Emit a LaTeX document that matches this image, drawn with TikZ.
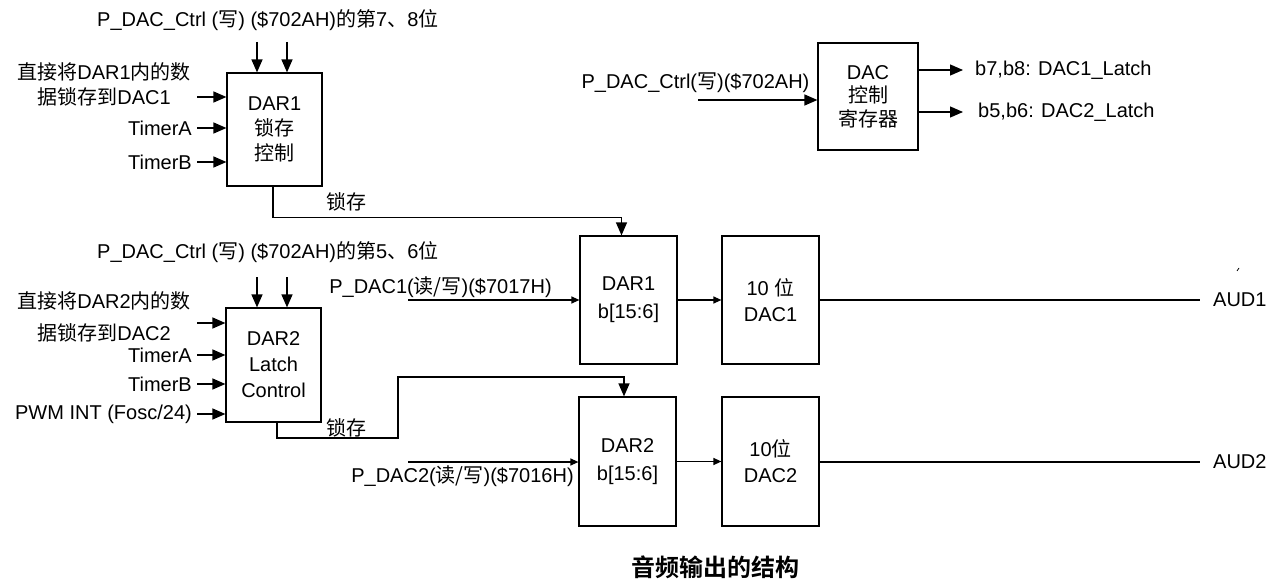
\documentclass[tikz,border=0pt]{standalone}
\usepackage{fontspec}
\setmainfont{Liberation Sans}
\newfontfamily\zhf{Noto Sans CJK SC}
\newfontfamily\zhbf{Noto Sans CJK SC Bold}
\newcommand{\zh}[1]{{\zhf #1}}
\usetikzlibrary{arrows.meta}
\tikzset{
  lbl/.style={font=\fontsize{20}{24}\selectfont, inner sep=0pt},
  blk/.style={draw, line width=1.2pt, align=center, inner sep=0pt, font=\fontsize{20}{25}\selectfont},
  big/.style={-{Triangle[length=13pt,width=11pt]}, line width=1.3pt},
  small/.style={-{Triangle[length=8pt,width=7pt]}, line width=1.2pt},
  wire/.style={line width=1.2pt},
}
\begin{document}
\begin{tikzpicture}[x=1pt,y=-1pt]
\path[use as bounding box, fill=white] (0,0) rectangle (1287,583);

% ---------- DAR1 latch control ----------
\node[lbl, anchor=west] (t1) at (97,20) {P\_DAC\_Ctrl (\zh{写}) (\$702AH)\zh{的第}7\zh{、}8\zh{位}};
\node[blk, minimum width=95, minimum height=113] (l1) at (274.5,129.5) {DAR1\\\zh{锁存}\\\zh{控制}};
\coordinate (u1) at (257,42);
\coordinate (u2) at (287,42);
\draw[big] (u1) -- (u1 |- l1.north);
\draw[big] (u2) -- (u2 |- l1.north);
\node[lbl, align=center, font=\fontsize{20}{25}\selectfont] (in1) at (104,84) {\zh{直接将}DAR1\zh{内的数}\\\zh{据锁存到}DAC1};
\coordinate (a1) at (197,97);
\draw[big] (a1) -- (a1 -| l1.west);
\node[lbl, anchor=east] (ta1) at (192,128) {TimerA};
\node[lbl, anchor=east] (tb1) at (192,162) {TimerB};
\draw[big, shorten <=5pt] (ta1.east) -- (ta1.east -| l1.west);
\draw[big, shorten <=5pt] (tb1.east) -- (tb1.east -| l1.west);

% ---------- DAR2 latch control ----------
\node[lbl, anchor=west] (t2) at (97,252) {P\_DAC\_Ctrl (\zh{写}) (\$702AH)\zh{的第}5\zh{、}6\zh{位}};
\node[blk, minimum width=95, minimum height=114, font=\fontsize{20}{26}\selectfont] (l2) at (273.5,365) {DAR2\\Latch\\Control};
\coordinate (v1) at (257,277);
\coordinate (v2) at (287,277);
\draw[big] (v1) -- (v1 |- l2.north);
\draw[big] (v2) -- (v2 |- l2.north);
\node[lbl, align=center, font=\fontsize{20}{32}\selectfont] (in2) at (104,317) {\zh{直接将}DAR2\zh{内的数}\\\zh{据锁存到}DAC2};
\coordinate (a2) at (197,323);
\draw[big] (a2) -- (a2 -| l2.west);
\node[lbl, anchor=east] (ta2) at (192,355) {TimerA};
\node[lbl, anchor=east] (tb2) at (192,384) {TimerB};
\node[lbl, anchor=east] (pw2) at (192,414) {PWM INT (Fosc/24)};
\draw[big, shorten <=5pt] (ta2.east) -- (ta2.east -| l2.west);
\draw[big, shorten <=5pt] (tb2.east) -- (tb2.east -| l2.west);
\draw[big, shorten <=5pt] (pw2.east) -- (pw2.east -| l2.west);

% ---------- data path ----------
\node[blk, minimum width=97, minimum height=128, font=\fontsize{20}{28}\selectfont] (d1) at (628.5,300) {DAR1\\b[15:6]};
\node[blk, minimum width=97, minimum height=129, font=\fontsize{20}{28}\selectfont] (d2) at (627.5,461.5) {DAR2\\b[15:6]};
\node[blk, minimum width=97, minimum height=128, font=\fontsize{20}{26}\selectfont] (c1) at (770.5,300) {10 \zh{位}\\DAC1};
\node[blk, minimum width=97, minimum height=129, font=\fontsize{20}{26}\selectfont] (c2) at (770.5,461.5) {10\zh{位}\\DAC2};

\node[lbl] (p1) at (440.5,287) {P\_DAC1(\zh{读/写})(\$7017H)};
\node[lbl] (p2) at (462.5,476) {P\_DAC2(\zh{读/写})(\$7016H)};
\coordinate (s1) at (408,300);
\coordinate (s2) at (408,462);
\draw[small] (s1) -- (s1 -| d1.west);
\draw[small] (s2) -- (s2 -| d2.west);
\draw[small] (d1.east) -- (c1.west);
\draw[small] (d2.east) -- (c2.west);

\coordinate (e1) at (1200,300);
\coordinate (e2) at (1200,462);
\draw[wire] (c1.east) -- (e1);
\draw[wire] (c2.east |- e2) -- (e2);
\node[lbl, anchor=west] (aud1) at (1213,300) {AUD1};
\node[lbl, anchor=west] (aud2) at (1213,462) {AUD2};
\draw[line width=0.8pt] (1237,271) -- (1239,268);

% ---------- latch connections ----------
\draw[big] ([xshift=-1.5pt]l1.south) -- ++(0,31) -| ([xshift=-7pt]d1.north);
\node[lbl] (k1) at (346,202) {\zh{锁存}};
\coordinate (j1) at (398,438);
\coordinate (j2) at (624,377);
\draw[big] ([xshift=3.5pt]l2.south) |- (j1) |- (j2) -- (j2 |- d2.north);
\node[lbl] (k2) at (346,428) {\zh{锁存}};

% ---------- DAC control register ----------
\node[blk, minimum width=100, minimum height=107, font=\fontsize{20}{23.5}\selectfont] (r) at (868,96.5) {DAC\\\zh{控制}\\\zh{寄存器}};
\node[lbl] (pc) at (695.5,83) {P\_DAC\_Ctrl(\zh{写})(\$702AH)};
\coordinate (w1) at (698,100);
\draw[big] (w1) -- (w1 -| r.west);
\coordinate (o1) at (963,70);
\coordinate (o2) at (963,112);
\draw[big] (o1 -| r.east) -- (o1);
\draw[big] (o2 -| r.east) -- (o2);
\node[lbl, anchor=west] (b1) at (975,70) {b7,b8: DAC1\_Latch};
\node[lbl, anchor=west] (b2) at (978,112) {b5,b6: DAC2\_Latch};

% ---------- caption ----------
\node[inner sep=0pt, font=\fontsize{24}{28}\selectfont\zhbf] (cap) at (715,567) {音频输出的结构};
\end{tikzpicture}
\end{document}
